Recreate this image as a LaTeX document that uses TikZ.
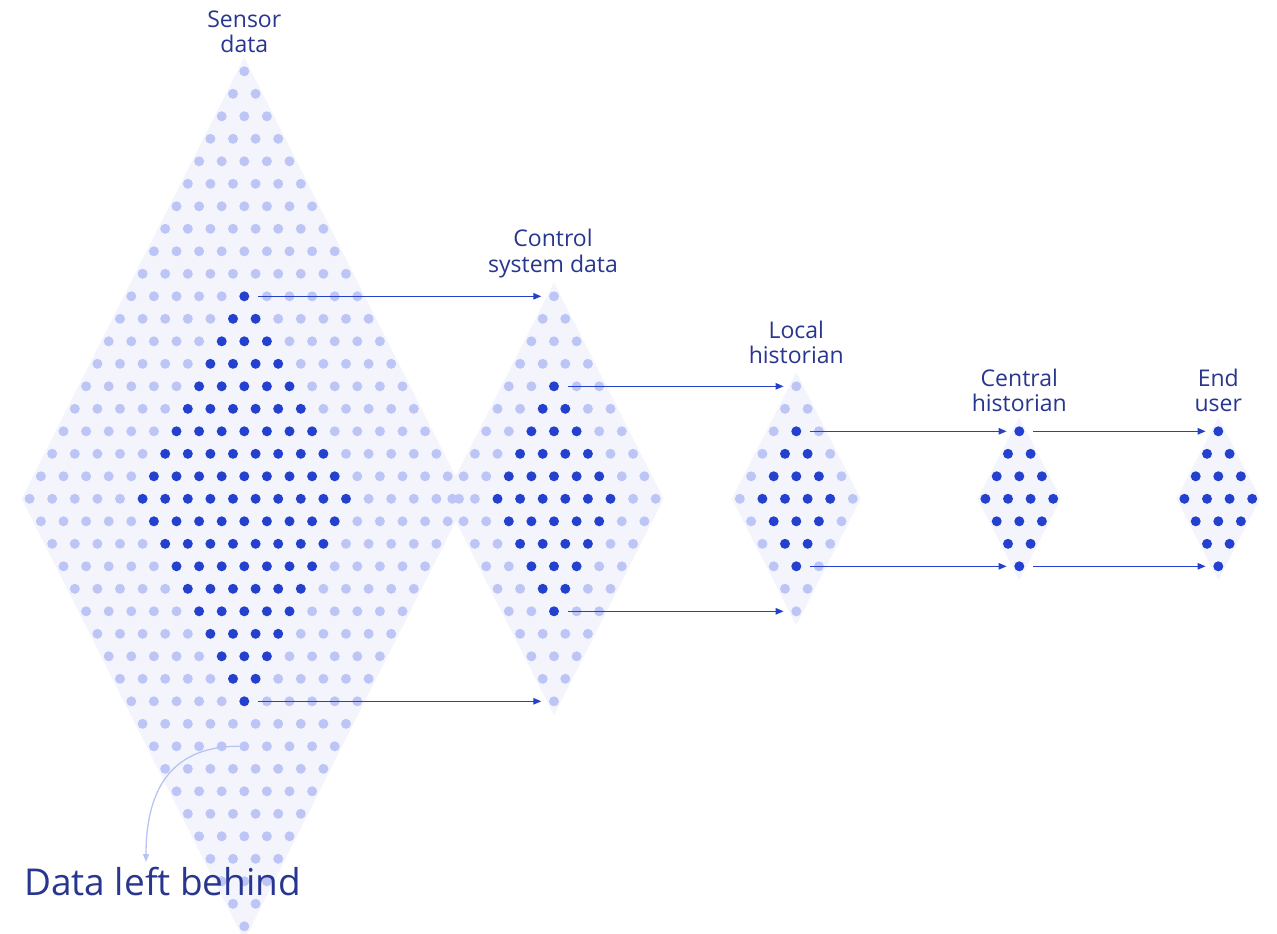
\documentclass[tikz,border=0pt]{standalone}
\usepackage{fontspec}
\setmainfont{Open Sans}
\usetikzlibrary{arrows.meta}
\definecolor{bgfill}{HTML}{F4F5FC}
\definecolor{dotlight}{HTML}{BCC5F5}
\definecolor{dotdark}{HTML}{2340CF}
\definecolor{arrowblue}{HTML}{2541CC}
\definecolor{textnavy}{HTML}{28368F}
\definecolor{curvelight}{HTML}{B9C3F2}

% background diamond: cx, ty, n-1
\newcommand\bgdiamond[3]{%
  \fill[bgfill] ({#1},{#2-14}) -- ({#1+#3*11.3+8},{#2+#3*22.5}) -- ({#1},{#2+2*#3*22.5+14}) -- ({#1-#3*11.3-8},{#2+#3*22.5}) -- cycle;}
% dots: name, cx, ty, n-1, dark lo, dark hi
\newcommand\dotdiamond[6]{%
  \foreach \a in {0,...,#4}{\foreach \b in {0,...,#4}{%
    \pgfmathtruncatemacro\dk{(\a>=#5)*(\a<=#6)*(\b>=#5)*(\b<=#6)}%
    \ifnum\dk=1 \def\dcol{dotdark}\else\def\dcol{dotlight}\fi
    \node[dotnode, fill=\dcol] (#1-\a-\b) at ({#2+(\a-\b)*11.3},{#3+(\a+\b)*22.5}) {};
  }}}

\begin{document}
\begin{tikzpicture}[x=1pt,y=-1pt,
  dotnode/.style={circle, inner sep=0pt, minimum size=10pt, draw=none},
  flow/.style={draw=arrowblue, line width=1.3pt, -{Triangle[length=8pt,width=6.5pt]}, shorten <=8.5pt, shorten >=7.5pt},
  leftbehind/.style={draw=curvelight, line width=1.3pt, -{Triangle[length=8pt,width=6pt]}},
  lab/.style={anchor=base, inner sep=0pt, text=textnavy, font=\fontsize{23}{25}\selectfont},
  biglab/.style={anchor=base west, inner sep=0pt, text=textnavy, font=\fontsize{37}{40}\selectfont}]
\useasboundingbox (0,0) rectangle (1277,934);

% backgrounds
\bgdiamond{244.3}{71.3}{19}
\bgdiamond{554}{296.3}{9}
\bgdiamond{796.3}{386.3}{5}
\bgdiamond{1019.3}{431.3}{3}
\bgdiamond{1218.3}{431.3}{3}

% dots
\dotdiamond{S}{244.3}{71.3}{19}{5}{14}
\dotdiamond{C}{554}{296.3}{9}{2}{7}
\dotdiamond{L}{796.3}{386.3}{5}{1}{4}
\dotdiamond{H}{1019.3}{431.3}{3}{0}{3}
\dotdiamond{U}{1218.3}{431.3}{3}{0}{3}

% flows
\draw[flow] (S-5-5) -- (C-0-0);
\draw[flow] (S-14-14) -- (C-9-9);
\draw[flow] (C-2-2) -- (L-0-0);
\draw[flow] (C-7-7) -- (L-5-5);
\draw[flow] (L-1-1) -- (H-0-0);
\draw[flow] (L-4-4) -- (H-3-3);
\draw[flow] (H-0-0) -- (U-0-0);
\draw[flow] (H-3-3) -- (U-3-3);

% data left behind
\coordinate (lbend) at (146,862);
\draw[leftbehind] (S-15-15.west) .. controls (175,746) and (146,785) .. (lbend);

% labels
\node[lab] (ls1) at (244.3,27.3) {Sensor};
\node[lab] (ls2) at (244.3,52.3) {data};
\node[lab] (lc1) at (553,246.7) {Control};
\node[lab] (lc2) at (553,272.3) {system data};
\node[lab] (ll1) at (796.3,338.3) {Local};
\node[lab] (ll2) at (796.3,363.3) {historian};
\node[lab] (lh1) at (1019.3,386) {Central};
\node[lab] (lh2) at (1019.3,411.7) {historian};
\node[lab] (lu1) at (1218.3,386) {End};
\node[lab] (lu2) at (1218.3,411.7) {user};
\node[biglab] (dlb) at (24,895) {Data left behind};
\end{tikzpicture}
\end{document}
